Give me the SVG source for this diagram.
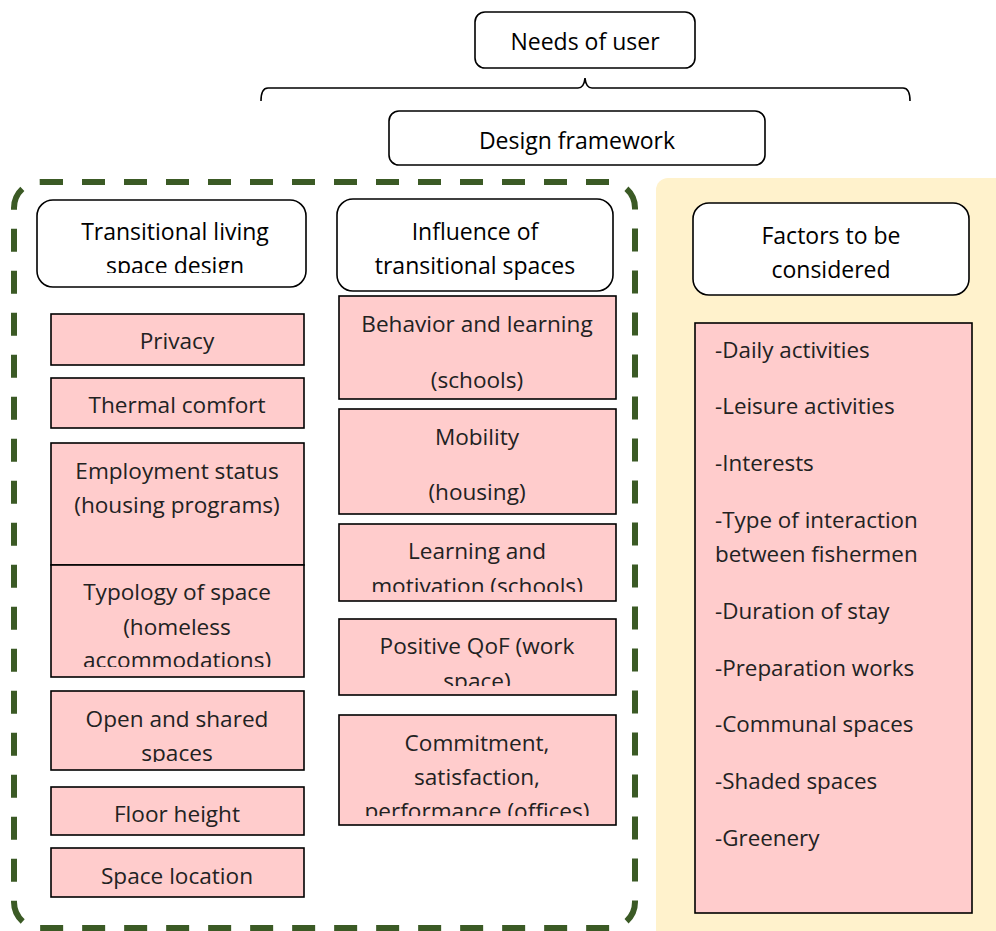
<svg xmlns="http://www.w3.org/2000/svg" width="996" height="931" viewBox="0 0 996 931">
<style>
.hd{fill:#fff;stroke:#000;stroke-width:1.6}
.pk{fill:#ffcccc;stroke:#000;stroke-width:1.6}
.ht{font-family:"Open Sans","Liberation Sans",sans-serif;font-size:23px;fill:#000;text-anchor:middle}
.pt{font-family:"Open Sans","Liberation Sans",sans-serif;font-size:22.6px;fill:#222;text-anchor:middle}
.lt{font-family:"Open Sans","Liberation Sans",sans-serif;font-size:22.4px;fill:#222}
</style>
<defs>
<clipPath id="c1"><rect x="37" y="200" width="270" height="73"/></clipPath>
<clipPath id="c2"><rect x="51" y="565" width="254" height="102"/></clipPath>
<clipPath id="c3"><rect x="51" y="691" width="254" height="71"/></clipPath>
<clipPath id="c4"><rect x="339" y="524" width="278" height="68"/></clipPath>
<clipPath id="c5"><rect x="339" y="619" width="278" height="67"/></clipPath>
<clipPath id="c6"><rect x="339" y="715" width="278" height="101"/></clipPath>
</defs>
<rect width="996" height="931" fill="#fff"/>
<g id="panel-factors">
<rect x="656" y="178" width="360" height="770" rx="12" fill="#fff2cc"/>
</g>
<g id="group-dashed">
<rect x="14" y="182" width="621" height="746" rx="26" fill="none" stroke="#3b5a25" stroke-width="6" stroke-dasharray="23 19"/>
</g>
<g id="connectors">
<path d="M261,101 Q261,88 268,88 L578,88 Q584,88 585,78 Q586,88 592,88 L903,88 Q910,88 910,101" fill="none" stroke="#000" stroke-width="1.6"/>
</g>
<g id="needs">
<rect class="hd" x="475" y="12" width="220" height="56" rx="10"/>
<text class="ht" x="585" y="50">Needs of user</text>
</g>
<g id="design-framework">
<rect class="hd" x="389" y="111" width="376" height="54" rx="10"/>
<text class="ht" x="577" y="149">Design framework</text>
</g>
<g id="transitional-living">
<rect class="hd" x="37" y="200" width="269" height="87" rx="16"/>
<g clip-path="url(#c1)">
<text class="ht" x="175" y="240">Transitional living</text>
<text class="ht" x="175" y="274">space design</text>
</g>
</g>
<g id="privacy">
<rect class="pk" x="51" y="314" width="253" height="51"/>
<text class="pt" x="177" y="349">Privacy</text>
</g>
<g id="thermal">
<rect class="pk" x="51" y="378" width="253" height="50"/>
<text class="pt" x="177" y="413">Thermal comfort</text>
</g>
<g id="employment">
<rect class="pk" x="51" y="443" width="253" height="122"/>
<text class="pt" x="177" y="479">Employment status</text>
<text class="pt" x="177" y="513">(housing programs)</text>
</g>
<g id="typology">
<rect class="pk" x="51" y="565" width="253" height="112"/>
<g clip-path="url(#c2)">
<text class="pt" x="177" y="600">Typology of space</text>
<text class="pt" x="177" y="635">(homeless</text>
<text class="pt" x="177" y="668">accommodations)</text>
</g>
</g>
<g id="open-shared">
<rect class="pk" x="51" y="691" width="253" height="79"/>
<g clip-path="url(#c3)">
<text class="pt" x="177" y="727">Open and shared</text>
<text class="pt" x="177" y="761">spaces</text>
</g>
</g>
<g id="floor-height">
<rect class="pk" x="51" y="787" width="253" height="48"/>
<text class="pt" x="177" y="822">Floor height</text>
</g>
<g id="space-location">
<rect class="pk" x="51" y="848" width="253" height="49"/>
<text class="pt" x="177" y="884">Space location</text>
</g>
<g id="influence">
<rect class="hd" x="337" y="199" width="276" height="92" rx="16"/>
<text class="ht" x="475" y="240">Influence of</text>
<text class="ht" x="475" y="274">transitional spaces</text>
</g>
<g id="behavior">
<rect class="pk" x="339" y="296" width="277" height="103"/>
<text class="pt" x="477" y="332">Behavior and learning</text>
<text class="pt" x="477" y="388">(schools)</text>
</g>
<g id="mobility">
<rect class="pk" x="339" y="409" width="277" height="105"/>
<text class="pt" x="477" y="445">Mobility</text>
<text class="pt" x="477" y="500">(housing)</text>
</g>
<g id="learning">
<rect class="pk" x="339" y="524" width="277" height="77"/>
<g clip-path="url(#c4)">
<text class="pt" x="477" y="559">Learning and</text>
<text class="pt" x="477" y="594">motivation (schools)</text>
</g>
</g>
<g id="qof">
<rect class="pk" x="339" y="619" width="277" height="76"/>
<g clip-path="url(#c5)">
<text class="pt" x="477" y="654">Positive QoF (work</text>
<text class="pt" x="477" y="689">space)</text>
</g>
</g>
<g id="commitment">
<rect class="pk" x="339" y="715" width="277" height="110"/>
<g clip-path="url(#c6)">
<text class="pt" x="477" y="751">Commitment,</text>
<text class="pt" x="477" y="785">satisfaction,</text>
<text class="pt" x="477" y="819">performance (offices)</text>
</g>
</g>
<g id="factors">
<rect class="hd" x="693" y="203" width="276" height="92" rx="16"/>
<text class="ht" x="831" y="244">Factors to be</text>
<text class="ht" x="831" y="278">considered</text>
</g>
<g id="factors-list">
<rect class="pk" x="695" y="323" width="277" height="590"/>
<text class="lt" x="715" y="358">-Daily activities</text>
<text class="lt" x="715" y="414">-Leisure activities</text>
<text class="lt" x="715" y="471">-Interests</text>
<text class="lt" x="715" y="528">-Type of interaction</text>
<text class="lt" x="715" y="562">between fishermen</text>
<text class="lt" x="715" y="619">-Duration of stay</text>
<text class="lt" x="715" y="676">-Preparation works</text>
<text class="lt" x="715" y="732">-Communal spaces</text>
<text class="lt" x="715" y="789">-Shaded spaces</text>
<text class="lt" x="715" y="846">-Greenery</text>
</g>
</svg>
